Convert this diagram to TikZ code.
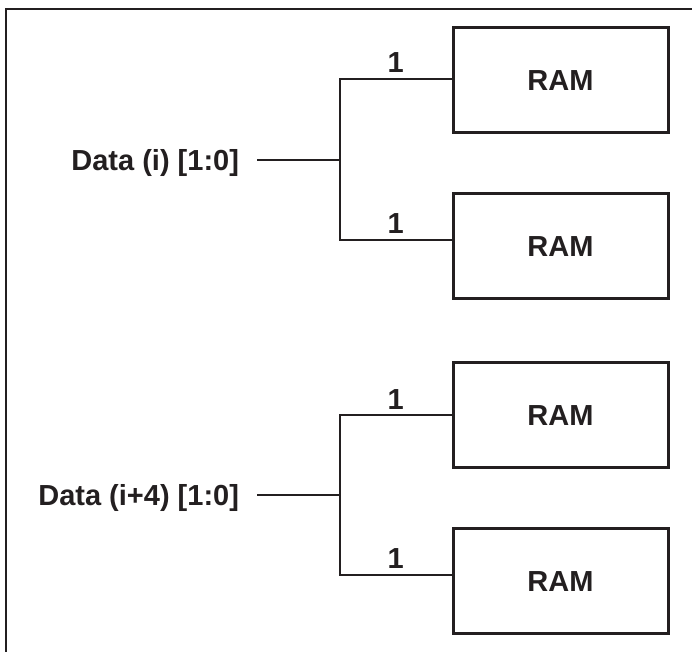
\documentclass[tikz,border=0pt]{standalone}
\usepackage{fontspec}
\setmainfont{Liberation Sans}
\usetikzlibrary{positioning}
\definecolor{ink}{HTML}{231F20}

\begin{document}
\begin{tikzpicture}[x=0.5pt,y=-0.5pt,line width=1pt,draw=ink,text=ink,
	lbl/.style={font=\fontsize{14.5}{17}\selectfont\bfseries},
	ram/.style={lbl,draw,line width=1.5pt,minimum width=107.5pt,minimum height=52.5pt},
	bus/.style={lbl,anchor=base east,inner sep=0pt},
	wid/.style={lbl,above,inner sep=2.5pt}]
	\useasboundingbox (0,0) rectangle (692,652);

	% frame (cut off at right and bottom)
	\draw (6,652) -- (6,9) -- (692,9);

	% first data pair
	\node [bus] (di)  at (240,171)     {Data (i) [1:0]};
	\node [ram] (r1)  at (560.5,80.5)  {RAM};
	\node [ram] (r2)  at (560.5,246.5) {RAM};
	\coordinate (j1) at (340,160);
	\draw ([xshift=8.5pt]di.east |- j1) -- (j1);
	\draw (j1) |- node[wid,pos=.75]{1} ([yshift=.75pt]r1.west);
	\draw (j1) |- node[wid,pos=.75]{1} ([yshift=3.25pt]r2.west);

	% second data pair
	\node [bus] (di4) at (240,506)     {Data (i+4) [1:0]};
	\node [ram] (r3)  at (560.5,415.5) {RAM};
	\node [ram] (r4)  at (560.5,581.5) {RAM};
	\coordinate (j2) at (340,495);
	\draw ([xshift=8.5pt]di4.east |- j2) -- (j2);
	\draw (j2) |- node[wid,pos=.75]{1} (r3.west);
	\draw (j2) |- node[wid,pos=.75]{1} ([yshift=3.25pt]r4.west);
\end{tikzpicture}
\end{document}
